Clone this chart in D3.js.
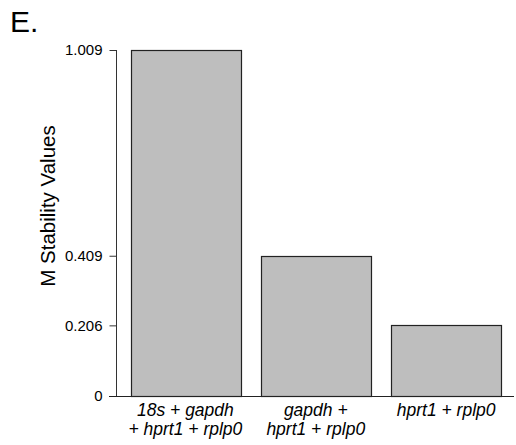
<!DOCTYPE html>
<html><head><meta charset="utf-8">
<script src="https://cdn.jsdelivr.net/npm/d3@7"></script>
<style>body{margin:0;background:#fff}svg{display:block}text{font-family:"Liberation Sans",Arial,Helvetica,sans-serif}</style>
</head><body>
<script>
const categories = [["18s + gapdh", "+ hprt1 + rplp0"], ["gapdh +", "hprt1 + rplp0"], ["hprt1 + rplp0"]];
const values = [1.009, 0.409, 0.206];
const tickValues = [0, 0.206, 0.409, 1.009];
const tickLabels = ["0", "0.206", "0.409", "1.009"];

const W = 516, H = 445;
const svg = d3.select("body").append("svg").attr("width", W).attr("height", H);

const y = d3.scaleLinear().domain([0, 1.009]).range([396, 50]);
const x = d3.scaleBand().domain(d3.range(categories.length)).range([120.2, 511.3]).paddingInner(0.16).paddingOuter(0.08);

// panel letter
svg.append("text").attr("x", 10).attr("y", 32).attr("font-size", 30).attr("fill", "#000").text("E.");

// bars
svg.selectAll("rect.bar").data(values).enter().append("rect")
  .attr("class", "bar")
  .attr("x", (d, i) => Math.round(x(i)) + 0.5)
  .attr("y", d => Math.round(y(d)) + 0.5)
  .attr("width", Math.round(x.bandwidth()))
  .attr("height", d => Math.round(y(0)) - Math.round(y(d)))
  .attr("fill", "#bebebe").attr("stroke", "#222").attr("stroke-width", 1.2);

// y axis
const yAxis = d3.axisLeft(y).tickValues(tickValues).tickFormat((d, i) => tickLabels[i]).tickSize(7).tickPadding(7);
const gy = svg.append("g").attr("transform", "translate(116.5,0)").call(yAxis);
gy.select(".domain").attr("d", `M0,${y(1.009)}V${y(0)}`).attr("stroke", "#333");
gy.selectAll(".tick line").attr("stroke", "#333");
gy.selectAll(".tick text").attr("font-size", 15).attr("fill", "#000").attr("font-family", '"Liberation Sans",Arial,sans-serif');

// baseline
svg.append("line").attr("x1", 109).attr("x2", 514).attr("y1", Math.round(y(0)) + 0.5).attr("y2", Math.round(y(0)) + 0.5)
  .attr("stroke", "#222").attr("stroke-width", 1.2);

// x labels
const lab = svg.selectAll("text.xl").data(categories).enter().append("text")
  .attr("class", "xl")
  .attr("text-anchor", "middle").attr("font-size", 17.5).attr("font-style", "italic").attr("fill", "#000")
  .attr("transform", (d, i) => `translate(${x(i) + x.bandwidth() / 2},416)`);
lab.selectAll("tspan").data(d => d).enter().append("tspan")
  .attr("x", 0).attr("y", (d, j) => j * 19).text(d => d);

// y title
svg.append("text").attr("transform", "translate(55,206) rotate(-90)").attr("text-anchor", "middle")
  .attr("font-size", 20.5).attr("fill", "#000").text("M Stability Values");
</script>
</body></html>
